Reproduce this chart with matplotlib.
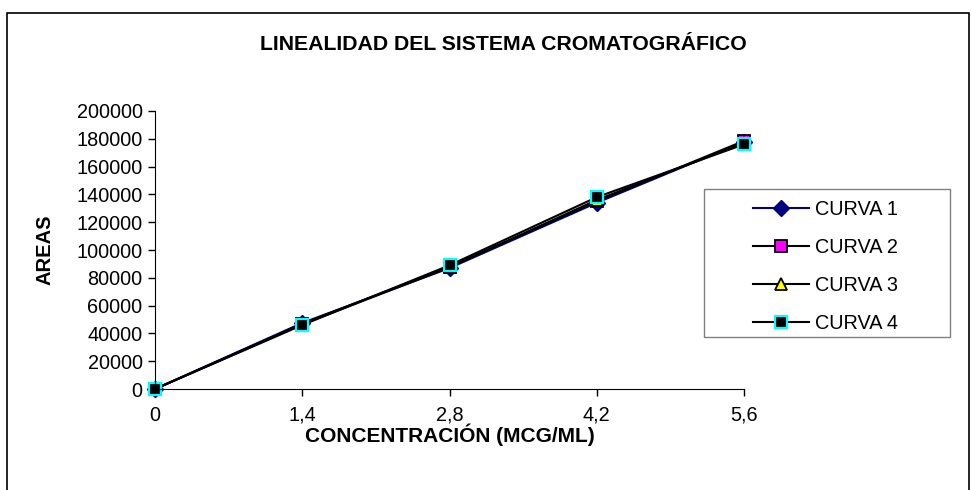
import matplotlib
matplotlib.use("Agg")
import matplotlib.pyplot as plt
from matplotlib.patches import Rectangle

plt.rcParams['font.family'] = ['Liberation Sans', 'DejaVu Sans']

# concentraciones (mcg/ml) y areas de cada curva
concentracion = [0, 1.4, 2.8, 4.2, 5.6]
etiquetas_x = ["0", "1,4", "2,8", "4,2", "5,6"]
curva1 = [0, 47500, 87000, 134000, 178000]
curva2 = [0, 47000, 88000, 135000, 178500]
curva3 = [0, 46500, 87500, 136000, 177000]
curva4 = [0, 46000, 89000, 138000, 176000]

fig = plt.figure(figsize=(9.71, 4.90), dpi=100)
ax = fig.add_axes([155/971, 101/490, 589/971, 278/490])

# marco exterior del grafico
fig.patches.append(Rectangle((7/971, -0.01), 962/971, (490-13)/490 + 0.01,
                             transform=fig.transFigure, fill=False,
                             edgecolor="black", linewidth=1.2))
# marco de la leyenda
fig.patches.append(Rectangle((704/971, 1 - 337/490), 246/971, 148/490,
                             transform=fig.transFigure, fill=False,
                             edgecolor="#808080", linewidth=1.0))

ax.plot(concentracion, curva1, color="#000080", lw=1.5, marker="D",
        ms=8, mfc="#000080", mec="#000080", label="CURVA 1", clip_on=False)
ax.plot(concentracion, curva2, color="black", lw=1.5, marker="s",
        ms=9, mfc="#ff00ff", mec="black", mew=1.3, label="CURVA 2", clip_on=False)
ax.plot(concentracion, curva3, color="black", lw=1.5, marker="^",
        ms=9, mfc="yellow", mec="black", mew=1.3, label="CURVA 3", clip_on=False)
ax.plot(concentracion, curva4, color="black", lw=1.5, marker="s",
        ms=9, mfc="black", mec="cyan", mew=1.6, label="CURVA 4", clip_on=False)

ax.set_xlim(0, 5.6)
ax.set_ylim(0, 200000)
ax.set_xticks(concentracion)
ax.set_xticklabels(etiquetas_x)
ax.set_yticks(range(0, 200001, 20000))
ax.tick_params(axis="both", labelsize=14.3, length=5, width=1, pad=4)
ax.tick_params(axis="x", pad=7)

for lado in ["top", "right"]:
    ax.spines[lado].set_visible(False)

ax.set_xlabel("CONCENTRACIÓN (MCG/ML)", fontsize=15, fontweight="bold", labelpad=-1)
ax.set_ylabel("AREAS", fontsize=14.5, fontweight="bold", labelpad=16)

fig.text(503/971, 1 - 45/490, "LINEALIDAD DEL SISTEMA CROMATOGRÁFICO",
         ha="center", va="center", fontsize=15.3, fontweight="bold")

leg = ax.legend(loc="upper left", bbox_to_anchor=(753/971, 1 - 200/490),
                bbox_transform=fig.transFigure, fontsize=14.3, frameon=False,
                handlelength=2.8, labelspacing=0.95, borderpad=0,
                handletextpad=0.3, borderaxespad=0)

fig.savefig("out.png", dpi=100)
